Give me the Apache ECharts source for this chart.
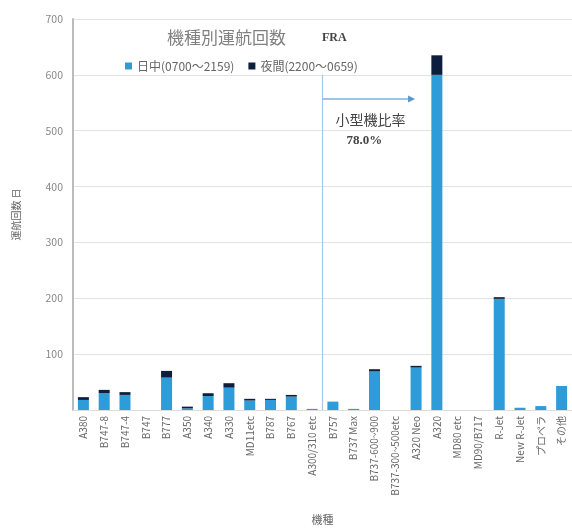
<!DOCTYPE html>
<html><head><meta charset="utf-8">
<script src="https://cdn.jsdelivr.net/npm/echarts@6/dist/echarts.min.js"></script>
<style>html,body{margin:0;padding:0;background:#fff}#c{width:572px;height:530px}</style>
</head><body><div id="c"></div>
<script>
const categories = ['A380','B747-8','B747-4','B747','B777','A350','A340','A330','MD11etc','B787','B767','A300/310 etc','B757','B737 Max','B737-600~900','B737-300~500etc','A320 Neo','A320','MD80 etc','MD90/B717','R-Jet','New R-Jet','プロペラ','その他'];
const dayValues   = [18,30,27,0,58,3,25,40,17,18,24,2,15,2,69,0,76,600,0,0,199,4,7,43];
const nightValues = [5,6,5,0,12,3,5,8,3,2,3,0,0,0,4,0,3,35,0,0,3,0,0,0];
const yTicks = [0,100,200,300,400,500,600,700];
const seriesNames = ['日中(0700～2159)','夜間(2200～0659)'];
const font = '"Noto Sans CJK JP","Noto Sans",sans-serif';

const chart = echarts.init(document.getElementById('c'));
chart.setOption({
  animation:false,
  textStyle:{fontFamily:font},
  title:[
    {text:'機種別運航回数',left:162,top:24,textStyle:{fontSize:17,color:'#808080',fontWeight:'normal',fontFamily:font}},
    {text:'FRA',left:317,top:27,textStyle:{fontSize:12,color:'#444',fontWeight:'bold',fontFamily:'"Liberation Serif","DejaVu Serif",serif'}}
  ],
  legend:{
    left:120, top:55, itemWidth:7, itemHeight:7, itemGap:14,
    textStyle:{fontSize:12,color:'#666'},
    data:[{name:seriesNames[0],icon:'rect'},{name:seriesNames[1],icon:'rect'}]
  },
  grid:{left:73, right:-3, top:19, bottom:118, containLabel:false},
  xAxis:{
    type:'category', data:categories,
    name:'機種', nameLocation:'middle', nameGap:104,
    nameTextStyle:{fontSize:11,color:'#666'},
    axisLine:{show:true,lineStyle:{color:'#ddd'}},
    axisTick:{show:false},
    axisLabel:{rotate:90,fontSize:10,color:'#666',interval:0,margin:6}
  },
  yAxis:{
    type:'value', min:yTicks[0], max:yTicks[yTicks.length-1], interval:100,
    name:'運航回数 日', nameLocation:'middle', nameGap:52, nameRotate:90,
    nameTextStyle:{fontSize:10,color:'#666'},
    axisLine:{show:true,lineStyle:{color:'#bbb',width:2}},
    axisTick:{show:false},
    axisLabel:{fontSize:10.5,color:'#888',margin:10,formatter:v=>v===0?'':String(v)},
    splitLine:{lineStyle:{color:'#e3e3e3'}}
  },
  series:[
    {name:seriesNames[0],type:'bar',stack:'t',data:dayValues,barWidth:11,itemStyle:{color:'#2E9CD8'}},
    {name:seriesNames[1],type:'bar',stack:'t',data:nightValues,barWidth:11,itemStyle:{color:'#0E1F3E'}}
  ]
});

// annotation: divider between wide-body and small aircraft, arrow, ratio text
const p1 = chart.convertToPixel({xAxisIndex:0,yAxisIndex:0},['A300/310 etc',0]);
const p2 = chart.convertToPixel({xAxisIndex:0,yAxisIndex:0},['B757',0]);
const pTop = chart.convertToPixel({xAxisIndex:0,yAxisIndex:0},['B757',600]);
const pArrow = chart.convertToPixel({xAxisIndex:0,yAxisIndex:0},['A320 Neo',557]);
const pT1 = chart.convertToPixel({xAxisIndex:0,yAxisIndex:0},['B737-600~900',520]);
const pT2 = chart.convertToPixel({xAxisIndex:0,yAxisIndex:0},['B737-600~900',482]);
const xd = (p1[0]+p2[0])/2;
chart.setOption({graphic:[
  {type:'line',shape:{x1:xd,y1:pTop[1],x2:xd,y2:p1[1]},style:{stroke:'#a8c8e8',lineWidth:1.2}},
  {type:'line',shape:{x1:xd,y1:pArrow[1],x2:pArrow[0]-6,y2:pArrow[1]},style:{stroke:'#7fb0dc',lineWidth:1.5}},
  {type:'polygon',shape:{points:[[pArrow[0]-8,pArrow[1]-3.5],[pArrow[0]-1,pArrow[1]],[pArrow[0]-8,pArrow[1]+3.5]]},style:{fill:'#5b97cf'}},
  {type:'text',x:pT1[0]-4,y:pT1[1],style:{text:'小型機比率',fontSize:14,fill:'#444',fontFamily:font,align:'center',verticalAlign:'middle'}},
  {type:'text',x:pT2[0]-10,y:pT2[1],style:{text:'78.0%',fontSize:13,fill:'#444',fontWeight:'bold',fontFamily:'"Liberation Serif",serif',align:'center',verticalAlign:'middle'}}
]});
</script></body></html>
